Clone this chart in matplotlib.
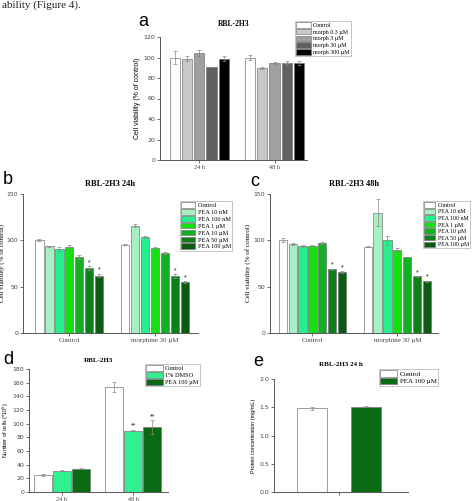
import matplotlib
matplotlib.use('Agg')
import matplotlib.pyplot as plt
import numpy as np

W, H = 474, 501

# ---- data ----
# panel a: morphine on RBL-2H3
a_groups = ['24 h', '48 h']
a_series = ['Control', 'morph 0.3 µM', 'morph 3 µM', 'morph 30 µM', 'morph 300 µM']
a_vals = [[100, 100], [99, 90], [104, 95], [91, 95], [99, 95]]
a_errs = [[6, 2], [2, 1], [3, 1], [0, 2], [2, 2]]
a_colors = ['white', '#c8c8c8', '#a0a0a0', '#606060', '#000000']

# panels b, c: PEA +/- morphine
bc_groups = ['Control', 'morphine 30 µM']
bc_series = ['Control', 'PEA 10 nM', 'PEA 100 nM', 'PEA 1 µM', 'PEA 10 µM', 'PEA 50 µM', 'PEA 100 µM']
bc_colors = ['white', '#a6f0c4', '#26f08e', '#14e014', '#12b022', '#0e801a', '#0a5a12']
b_vals = [[100, 95.5], [93.5, 116], [91, 103.5], [93, 92], [82, 86], [70, 61.5], [62, 55]]
b_errs = [[1, 0.5], [0.5, 2], [2, 1], [2, 0.5], [2, 1], [2, 2], [2, 1]]
b_stars = [['', ''], ['', ''], ['', ''], ['', ''], ['', ''], ['*', '*'], ['*', '*']]
c_vals = [[100, 93], [96, 130], [94, 100], [94, 90], [97, 82], [69, 61], [66, 56]]
c_errs = [[2, 0.5], [1, 15], [1, 5], [0.5, 2], [1, 0.5], [0.5, 0.5], [1, 0.5]]
c_stars = b_stars

# panel d: cell number
d_groups = ['24 h', '48 h']
d_series = ['Control', '1% DMSO', 'PEA 100 µM']
d_vals = [[25, 154], [31, 90], [34, 95]]
d_errs = [[1, 7], [0.5, 1], [1, 10]]
d_stars = [['', ''], ['', '**'], ['', '**']]
d_colors = ['white', '#30f090', '#0a6a14']

# panel e: protein concentration
e_series = ['Control', 'PEA 100 µM']
e_vals = [1.48, 1.51]
e_errs = [0.02, 0.005]
e_colors = ['white', '#0a6a14']

SERIF = 'Liberation Serif'
SANS = 'Liberation Sans'
EDGE = '#777777'

fig = plt.figure(figsize=(W / 100, H / 100), dpi=100)


def rect(x0, x1, ytop, ybot):
    return [x0 / W, 1 - ybot / H, (x1 - x0) / W, (ybot - ytop) / H]


def style(ax):
    for s in ['top', 'right']:
        ax.spines[s].set_visible(False)
    for s in ['left', 'bottom']:
        ax.spines[s].set_color('#555555')
        ax.spines[s].set_linewidth(0.7)
    ax.tick_params(length=2, width=0.6, color='#555555', labelsize=4.5,
                   labelcolor='#444444', pad=1.5)


def grouped(ax, vals, errs, colors, slot, width, stars=None, star_fs=5):
    n = len(vals)
    x = np.arange(len(vals[0]))
    for i in range(n):
        xi = x + (i - (n - 1) / 2) * slot
        ax.bar(xi, vals[i], width, color=colors[i], edgecolor=EDGE, linewidth=0.5)
        ax.errorbar(xi, vals[i], yerr=errs[i], fmt='none', ecolor='#888888',
                    elinewidth=0.5, capsize=1.2, capthick=0.5)
        if stars is not None:
            for j in range(len(x)):
                if stars[i][j]:
                    ax.text(xi[j], vals[i][j] + errs[i][j], stars[i][j], ha='center',
                            va='bottom', fontsize=star_fs, family=SANS, color='#222222')
    return x


def legend(ax, labels, colors, anchor, fs=4.5, hl=2.2, hh=1.1):
    from matplotlib.patches import Patch
    handles = [Patch(facecolor=c, edgecolor=EDGE, linewidth=0.5) for c in colors]
    lg = ax.legend(handles, labels, loc='upper left', bbox_to_anchor=anchor,
                   bbox_transform=fig.transFigure, prop={'family': SERIF, 'size': fs},
                   frameon=True, fancybox=False, borderpad=0.2, labelspacing=0.15,
                   handlelength=hl, handleheight=hh, handletextpad=0.4, borderaxespad=0)
    lg.get_frame().set_edgecolor('#999999')
    lg.get_frame().set_linewidth(0.5)


# text from the page above
fig.text(2 / W, 1 - 0.5 / H, 'ability (Figure 4).', family=SERIF, fontsize=8,
         va='top', ha='left', color='#222222')

# ---- panel a ----
ax = fig.add_axes(rect(160, 307, 37, 160))
style(ax)
x = grouped(ax, a_vals, a_errs, a_colors, slot=0.163, width=0.135)
ax.set_xlim(-0.52, 1.43)
ax.set_ylim(0, 120)
ax.set_yticks(np.arange(0, 121, 20))
ax.set_xticks(x)
ax.set_xticklabels(a_groups, family=SERIF)
ax.set_ylabel('Cell viability (% of control)', fontsize=5, family=SANS, labelpad=2)
ax.set_title('RBL-2H3', fontsize=5.5, family=SERIF, fontweight='bold', pad=8)
legend(ax, a_series, a_colors, (295 / W, 1 - 21 / H), fs=4.3, hl=2.4, hh=1.05)
fig.text(143 / W, 1 - 22 / H, 'a', fontsize=13, family=SANS, va='center', ha='center')

# ---- panel b ----
ax = fig.add_axes(rect(23, 198, 194, 333))
style(ax)
x = grouped(ax, b_vals, b_errs, bc_colors, slot=0.116, width=0.097, stars=b_stars)
ax.set_xlim(-0.54, 1.5)
ax.set_ylim(0, 150)
ax.set_yticks([0, 50, 100, 150])
ax.set_xticks(x)
ax.set_xticklabels(bc_groups, family=SERIF, fontsize=5)
ax.set_ylabel('Cell viability (% of control)', fontsize=5, family=SERIF, labelpad=1)
ax.set_title('RBL-2H3 24h', fontsize=6, family=SERIF, fontweight='bold', pad=6)
legend(ax, bc_series, bc_colors, (180 / W, 1 - 201 / H), fs=4.5, hl=2.2, hh=1.0)
fig.text(8 / W, 1 - 180 / H, 'b', fontsize=13, family=SANS, va='center', ha='center')

# ---- panel c ----
ax = fig.add_axes(rect(270, 438, 194, 333))
style(ax)
x = grouped(ax, c_vals, c_errs, bc_colors, slot=0.116, width=0.097, stars=c_stars)
ax.set_xlim(-0.5, 1.48)
ax.set_ylim(0, 150)
ax.set_yticks([0, 50, 100, 150])
ax.set_xticks(x)
ax.set_xticklabels(bc_groups, family=SERIF, fontsize=5)
ax.set_ylabel('Cell viability (% of control)', fontsize=5, family=SERIF, labelpad=2)
ax.set_title('RBL-2H3 48h', fontsize=6, family=SERIF, fontweight='bold', pad=6)
legend(ax, bc_series, bc_colors, (423 / W, 1 - 201 / H), fs=4.2, hl=1.9, hh=1.05)
fig.text(255 / W, 1 - 182 / H, 'c', fontsize=13, family=SANS, va='center', ha='center')

# ---- panel d ----
ax = fig.add_axes(rect(29, 168, 369, 492))
style(ax)
x = grouped(ax, d_vals, d_errs, d_colors, slot=0.268, width=0.25, stars=d_stars, star_fs=5)
ax.set_xlim(-0.46, 1.49)
ax.set_ylim(0, 180)
ax.set_yticks(np.arange(0, 181, 20))
ax.set_xticks(x)
ax.set_xticklabels(d_groups, family=SERIF, fontsize=4.5)
ax.set_ylabel('Number of cells (*10$^5$)', fontsize=4, family=SANS, labelpad=1)
ax.set_title('RBL-2H3', fontsize=5, family=SERIF, fontweight='bold', pad=5)
legend(ax, d_series, d_colors, (145 / W, 1 - 364 / H), fs=4.5, hl=2.6, hh=1.0)
fig.text(8 / W, 1 - 359 / H, 'd', fontsize=13, family=SANS, va='center', ha='center')

# ---- panel e ----
ax = fig.add_axes(rect(274, 408, 379, 492))
style(ax)
ex = [-0.43, 0.37]
for i in range(2):
    ax.bar(ex[i], e_vals[i], 0.45, color=e_colors[i], edgecolor=EDGE, linewidth=0.5)
    ax.errorbar(ex[i], e_vals[i], yerr=e_errs[i], fmt='none', ecolor='#888888',
                elinewidth=0.5, capsize=1.2, capthick=0.5)
ax.set_xlim(-1, 1)
ax.set_ylim(0, 2.0)
ax.set_yticks([0.0, 0.5, 1.0, 1.5, 2.0])
ax.set_xticks([-0.03])
ax.set_xticklabels([''])
ax.set_ylabel('Protein concentration (mg/mL)', fontsize=4, family=SANS, labelpad=2)
ax.set_title('RBL-2H3 24 h', fontsize=5, family=SERIF, fontweight='bold', pad=9)
legend(ax, e_series, e_colors, (379 / W, 1 - 369 / H), fs=5, hl=2.4, hh=1.0)
fig.text(258 / W, 1 - 361 / H, 'e', fontsize=13, family=SANS, va='center', ha='center')

fig.savefig('out.png', dpi=100)
